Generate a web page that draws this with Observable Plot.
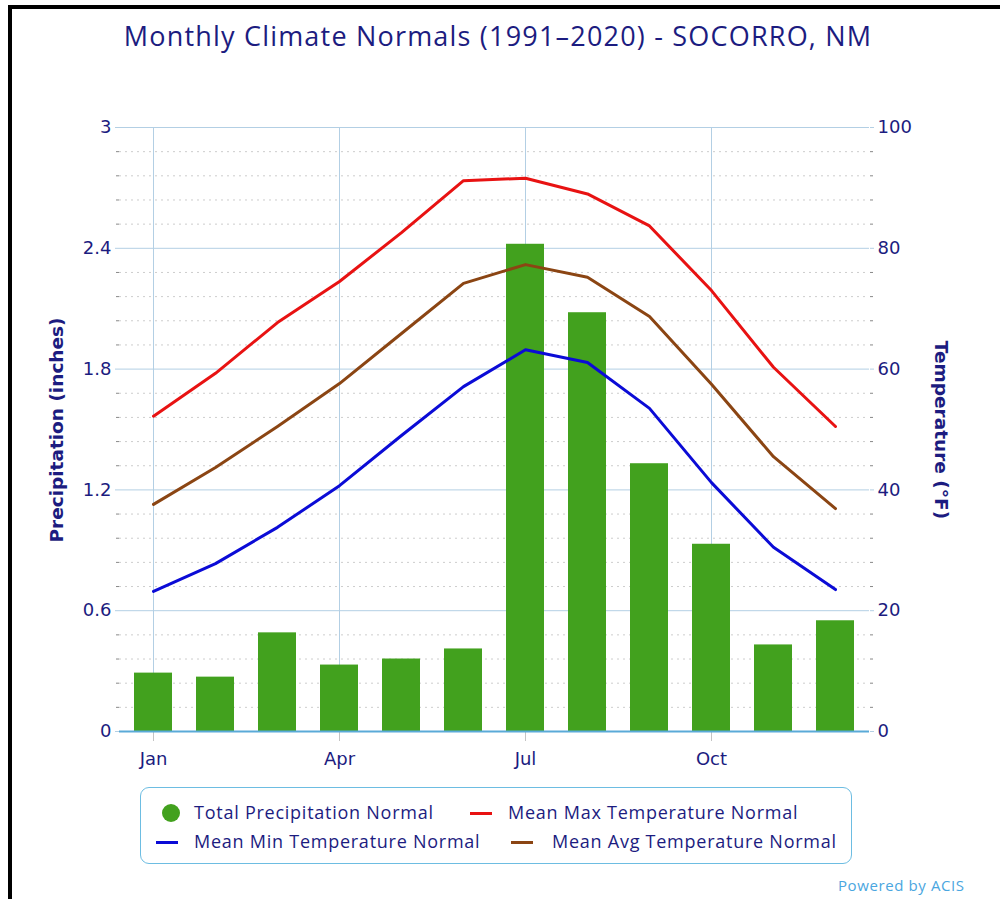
<!DOCTYPE html>
<html>
<head>
<meta charset="utf-8">
<script src="https://cdn.jsdelivr.net/npm/d3@7"></script>
<script src="https://cdn.jsdelivr.net/npm/@observablehq/plot@0.6"></script>
<style>
  body { margin: 0; background: #fff; }
  #page { position: relative; width: 1000px; height: 899px; overflow: hidden; background: #fff; }
  #frame { position: absolute; left: 8px; top: 5px; width: 1100px; height: 1000px; border-top: 4px solid #000; border-left: 4px solid #000; box-sizing: border-box; }
  #title { position: absolute; left: 0; top: 18px; width: 996px; text-align: center; font-family: "Open Sans", sans-serif; font-size: 27px; letter-spacing: 1.2px; line-height: 36px; color: #1c1c80; white-space: nowrap; }
  #chart { position: absolute; left: 0; top: 100px; }
  .ylab { position: absolute; font-family: "DejaVu Sans", sans-serif; font-weight: bold; font-size: 18.5px; color: #1c1c80; white-space: nowrap; }
  #legend { position: absolute; left: 140px; top: 787px; width: 712px; height: 77px; border: 1.5px solid #6dbde2; border-radius: 9px; box-sizing: border-box; font-family: "Open Sans", sans-serif; font-size: 18px; letter-spacing: 0.75px; color: #1c1c80; }
  .li { position: absolute; white-space: nowrap; line-height: 22px; }
  .sw { position: absolute; height: 3px; }
  #acis { position: absolute; left: 838px; top: 875px; font-family: "Open Sans", sans-serif; font-size: 15px; letter-spacing: 0.6px; color: #4aa6e0; white-space: nowrap; }
</style>
</head>
<body>
<div id="page">
  <div id="frame"></div>
  <div id="title">Monthly Climate Normals (1991–2020) - SOCORRO, NM</div>
  <div id="chart"></div>
  <div class="ylab" id="ylabL">Precipitation (inches)</div>
  <div class="ylab" id="ylabR">Temperature (°F)</div>
  <div id="legend"></div>
  <div id="acis">Powered by ACIS</div>
</div>
<script>
// ---- Data ----
const months = ["Jan","Feb","Mar","Apr","May","Jun","Jul","Aug","Sep","Oct","Nov","Dec"];
const precip = [0.29, 0.27, 0.49, 0.33, 0.36, 0.41, 2.42, 2.08, 1.33, 0.93, 0.43, 0.55];
const tmax   = [52.2, 59.3, 67.7, 74.5, 82.6, 91.2, 91.6, 89.0, 83.7, 73.0, 60.3, 50.5];
const tavg   = [37.6, 43.7, 50.5, 57.6, 65.9, 74.2, 77.3, 75.2, 68.7, 57.5, 45.5, 36.9];
const tmin   = [23.2, 27.8, 33.8, 40.7, 49.0, 57.1, 63.2, 61.1, 53.5, 41.2, 30.5, 23.5];
const xTicks = ["Jan","Apr","Jul","Oct"];
const precipTicks = [0, 0.6, 1.2, 1.8, 2.4, 3];
const precipMinor = [0.12, 0.24, 0.36, 0.48, 0.72, 0.84, 0.96, 1.08, 1.32, 1.44, 1.56, 1.68, 1.92, 2.04, 2.16, 2.28, 2.52, 2.64, 2.76, 2.88];
const tempTicks = [0, 20, 40, 60, 80, 100];
const legendItems = [
  {label: "Total Precipitation Normal", kind: "dot", color: "#42a11e"},
  {label: "Mean Max Temperature Normal", kind: "line", color: "#e81212"},
  {label: "Mean Min Temperature Normal", kind: "line", color: "#0b0bd6"},
  {label: "Mean Avg Temperature Normal", kind: "line", color: "#8b4513"}
];

// temperature (°F 0..100) mapped onto the precipitation axis (0..3 in)
const k = 3 / 100;
const rows = months.map((m, i) => ({month: m, precip: precip[i], tmax: tmax[i], tavg: tavg[i], tmin: tmin[i]}));

const navy = "#1c1c80";
const grid = "#b3cfe4";

const chart = Plot.plot({
  width: 1000,
  height: 680,
  marginLeft: 119,
  marginRight: 131,
  marginTop: 27,
  marginBottom: 49,
  style: {fontFamily: "DejaVu Sans, sans-serif", fontSize: "18px", color: navy, background: "transparent", overflow: "visible"},
  x: {type: "band", domain: months, paddingInner: 0.39, paddingOuter: 0.195, label: null},
  y: {domain: [0, 3], label: null},
  marks: [
    Plot.ruleY(precipMinor, {stroke: "#cdcdcd", strokeDasharray: "2,4"}),
    Plot.ruleY(precipTicks.slice(1), {stroke: grid}),
    Plot.ruleX(xTicks, {stroke: grid}),
    Plot.barY(rows, {x: "month", y: "precip", fill: "#42a11e"}),
    Plot.lineY(rows, {x: "month", y: d => d.tmax * k, stroke: legendItems[1].color, strokeWidth: 3}),
    Plot.lineY(rows, {x: "month", y: d => d.tavg * k, stroke: legendItems[3].color, strokeWidth: 3}),
    Plot.lineY(rows, {x: "month", y: d => d.tmin * k, stroke: legendItems[2].color, strokeWidth: 3}),
    Plot.axisX({ticks: xTicks, tickSize: 10, tickPadding: 11, stroke: "#c4c4c4", fill: navy, label: null, fontSize: 18}),
    Plot.axisY({anchor: "left", ticks: precipMinor, tickSize: 3, stroke: "#888", tickFormat: () => "", label: null}),
    Plot.axisY({anchor: "left", ticks: precipTicks, tickSize: 4, tickPadding: 4, stroke: grid, fill: navy, tickFormat: d => String(d), label: null, fontSize: 18}),
    Plot.axisY({anchor: "right", ticks: precipMinor, tickSize: 3, stroke: "#888", tickFormat: () => "", label: null}),
    Plot.axisY({anchor: "right", ticks: tempTicks.map(t => t * k), tickSize: 4, tickPadding: 4, stroke: grid, fill: navy, tickFormat: d => String(Math.round(d / k)), label: null, fontSize: 18}),
    Plot.ruleY([0], {stroke: "#5aaad8", strokeWidth: 2})
  ]
});
document.getElementById("chart").appendChild(chart);

// axis titles
const yl = document.getElementById("ylabL");
yl.style.left = "56px"; yl.style.top = "430px";
yl.style.transform = "translate(-50%,-50%) rotate(-90deg)";
const yr = document.getElementById("ylabR");
yr.style.left = "941px"; yr.style.top = "430px";
yr.style.transform = "translate(-50%,-50%) rotate(90deg)";

// legend
const lg = document.getElementById("legend");
const pos = [
  {sx: 30, tx: 53, y: 25},
  {sx: 331, tx: 367, y: 25},
  {sx: 17, tx: 53, y: 54},
  {sx: 372, tx: 411, y: 54}
];
legendItems.forEach((it, i) => {
  const p = pos[i];
  const sw = document.createElement("div");
  if (it.kind === "dot") {
    sw.style.cssText = `position:absolute;left:${p.sx - 9}px;top:${p.y - 9}px;width:18px;height:18px;border-radius:50%;background:${it.color};`;
  } else {
    sw.className = "sw";
    sw.style.cssText += `left:${p.sx - 2}px;top:${p.y - 1.5}px;width:22px;background:${it.color};`;
  }
  lg.appendChild(sw);
  const t = document.createElement("div");
  t.className = "li";
  t.style.left = p.tx + "px";
  t.style.top = (p.y - 12) + "px";
  t.textContent = it.label;
  lg.appendChild(t);
});
</script>
</body>
</html>
